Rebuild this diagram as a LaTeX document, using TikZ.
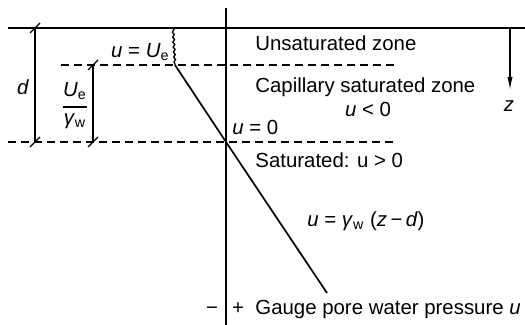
\documentclass[tikz,border=0pt]{standalone}
\usepackage{fontspec}
\setmainfont{Liberation Sans}
\usetikzlibrary{arrows.meta,decorations.pathmorphing}
\begin{document}
\begin{tikzpicture}[x=0.5pt,y=-0.5pt,
  solidln/.style={line width=0.85pt},
  dashln/.style={line width=0.85pt, dash pattern=on 4pt off 2.5pt},
  thinln/.style={line width=0.65pt},
  lbl/.style={inner sep=0pt, font=\fontsize{10.2}{12}\selectfont}]
\useasboundingbox (0,0) rectangle (525,325);
% coordinates
\coordinate (axT) at (226,8);
\coordinate (axB) at (226,325);
\coordinate (topL) at (8,28);
\coordinate (topR) at (525,28);
\coordinate (ueL) at (61,65);
\coordinate (ueR) at (395,65);
\coordinate (zeroL) at (8,142);
\coordinate (zeroR) at (395,142);
\coordinate (w0) at (173,28);
\coordinate (w1) at (175,65);
\coordinate (p0) at (226,142);
\coordinate (pEnd) at (327,293);
\coordinate (dT) at (35,28);
\coordinate (dB) at (35,142);
\coordinate (hT) at (93,65);
\coordinate (hB) at (93,142);
\coordinate (fracL) at (63,107);
\coordinate (fracR) at (87,107);
\coordinate (zA) at (510,28);
\coordinate (zB) at (510,90);
% lines
\draw[solidln] (axT) -- (axB);
\draw[solidln] (topL) -- (topR);
\draw[dashln] (ueL) -- (ueR);
\draw[dashln] (zeroL) -- (zeroR);
\draw[thinln, decorate, decoration={snake, amplitude=0.45pt, segment length=2.5pt}] (w0) -- (w1);
\draw[solidln] (w1) -- (p0) -- (pEnd);
% dimensions
\draw[thinln] (dT) -- (dB);
\draw[thinln] (hT) -- (hB);
\foreach \c in {dT,dB,hT,hB}
  \draw[thinln] ([shift={(-5,5)}]\c) -- ([shift={(5,-5)}]\c);
\draw[thinln] (fracL) -- (fracR);
% z arrow
\draw[thinln, -{Latex[length=6.5pt,width=2.6pt]}] (zA) -- (zB);
% labels
\node[lbl, anchor=base east] (lue) at (170,58) {\textit{u} = \textit{U}\textsubscript{e}};
\node[lbl, anchor=base] (ld) at (23,95) {\textit{d}};
\node[lbl, anchor=base] (lfn) at (75,97) {\textit{U}\textsubscript{e}};
\node[lbl, anchor=base] (lfd) at (75,125) {\textit{γ}\textsubscript{w}};
\node[lbl, anchor=base west] (lunsat) at (255,51) {Unsaturated zone};
\node[lbl, anchor=base west] (lcap) at (255,93) {Capillary saturated zone};
\node[lbl, anchor=base] (lneg) at (368,117) {\textit{u} < 0};
\node[lbl, anchor=base] (lz) at (509,112) {\textit{z}};
\node[lbl, anchor=base west] (lu0) at (232,135) {\textit{u} = 0};
\node[lbl, anchor=base west] (lsat) at (255,168) {Saturated: u > 0};
\node[lbl, anchor=base west] (lform) at (307,227) {\textit{u} = \textit{γ}\textsubscript{w} (\textit{z}\,−\,\textit{d})};
\node[lbl, anchor=base] (lminus) at (212,315) {−};
\node[lbl, anchor=base] (lplus) at (238,315) {+};
\node[lbl, anchor=base west] (lgauge) at (255,315) {Gauge pore water pressure \textit{u}};
\end{tikzpicture}
\end{document}
